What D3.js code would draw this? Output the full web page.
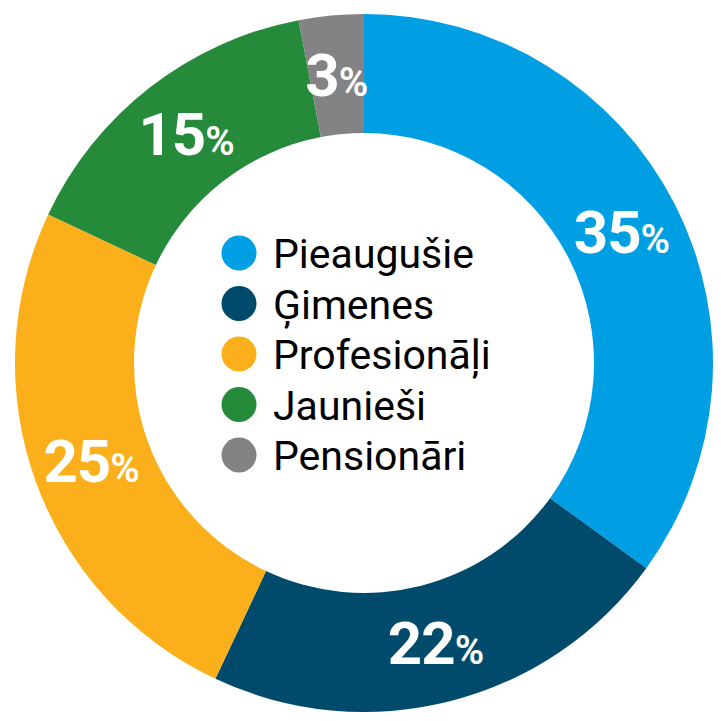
<!DOCTYPE html>
<html>
<head>
<meta charset="utf-8">
<script src="https://cdn.jsdelivr.net/npm/d3@7"></script>
<style>
  html, body { margin: 0; padding: 0; background: #fff; }
</style>
</head>
<body>
<div id="chart"></div>
<script>
// segment data, clockwise from 12 o'clock
const categories = ["Pieaugušie", "Ģimenes", "Profesionāļi", "Jaunieši", "Pensionāri"];
const values = [35, 22, 25, 15, 3];
const colors = ["#009fe3", "#004b6b", "#fbb01b", "#268a3b", "#838386"];

const width = 721, height = 721;
const cx = 364, cy = 363;
const outerR = 349, innerR = 230;

const data = categories.map((c, i) => ({ name: c, value: values[i], color: colors[i] }));

const pie = d3.pie().value(d => d.value).sort(null);
const arc = d3.arc().innerRadius(innerR).outerRadius(outerR);
const arcs = pie(data);

const svg = d3.select("#chart").append("svg")
  .attr("width", width)
  .attr("height", height);

const g = svg.append("g").attr("transform", `translate(${cx},${cy})`);

// donut slices
g.selectAll("path")
  .data(arcs)
  .join("path")
  .attr("d", arc)
  .attr("fill", d => d.data.color);

// percent labels on the ring
const label = g.selectAll("text.pct")
  .data(arcs)
  .join("text")
  .attr("class", "pct")
  .attr("transform", d => {
    const [x, y] = arc.centroid(d);
    return `translate(${x},${y + 21})`;
  })
  .attr("text-anchor", "middle")
  .attr("fill", "#fff")
  .attr("font-family", "Roboto, 'Open Sans', sans-serif");

label.append("tspan")
  .attr("font-size", 60)
  .attr("font-weight", 700)
  .attr("letter-spacing", -1)
  .text(d => d.data.value);

label.append("tspan")
  .attr("font-size", 40)
  .attr("font-weight", 600)
  .text("%");

// legend in the middle
const legendY = d3.scalePoint()
  .domain(categories)
  .range([253, 455]);

const legend = svg.append("g")
  .selectAll("g")
  .data(data)
  .join("g")
  .attr("transform", d => `translate(0,${legendY(d.name)})`);

legend.append("circle")
  .attr("cx", 239)
  .attr("cy", 0)
  .attr("r", 17.5)
  .attr("fill", d => d.color);

legend.append("text")
  .attr("x", 273)
  .attr("y", 15)
  .attr("font-family", "Roboto, sans-serif")
  .attr("font-size", 41)
  .attr("fill", "#000")
  .text(d => d.name);
</script>
</body>
</html>
